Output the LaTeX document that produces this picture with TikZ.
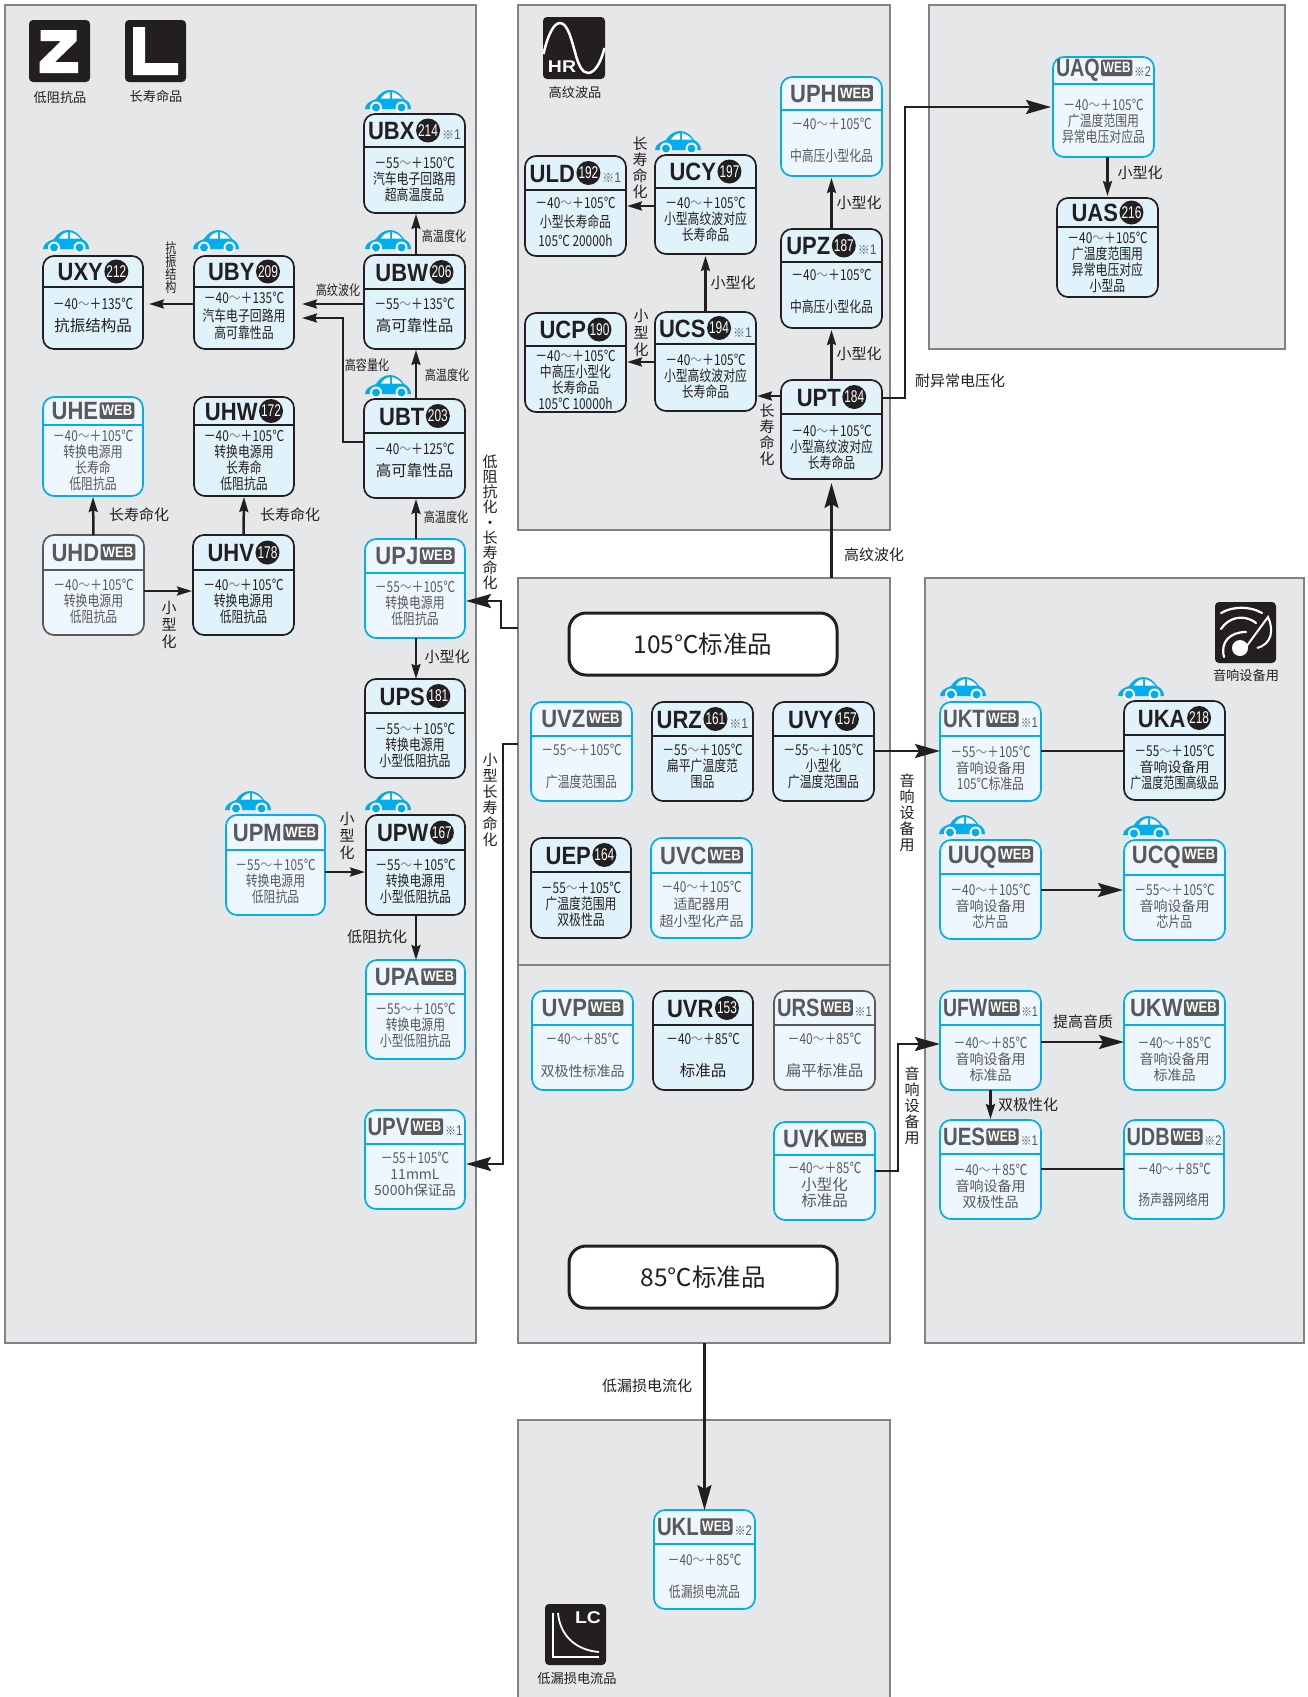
\documentclass[tikz,border=0pt]{standalone}
\usepackage{fontspec}
\usepackage{graphicx}
\usetikzlibrary{arrows.meta,calc}
\newfontfamily\cjk{Noto Sans CJK SC}[FakeStretch=0.79]
\newfontfamily\cjkn{Noto Sans CJK SC}
\newfontfamily\ttlf{Liberation Sans}[FakeStretch=0.88]
\newfontfamily\numf{Liberation Sans}[FakeStretch=0.70]
\definecolor{ink}{HTML}{231F20}
\definecolor{gr}{HTML}{58595B}
\definecolor{cy}{HTML}{00AEEF}
\definecolor{pan}{HTML}{E6E7E8}
\definecolor{panb}{HTML}{808285}
\definecolor{fd}{HTML}{E0F2FA}
\definecolor{fw}{HTML}{EEF7FD}
\newsavebox\rowb
\tikzset{
 panelbox/.style={draw=panb,line width=1.2pt,fill=pan,rectangle,inner sep=0pt,outer sep=0pt},
 boxbase/.style={rectangle,rounded corners=11pt,inner sep=0pt,outer sep=0pt,line width=1.7pt},
 boxd/.style={boxbase,draw=ink,fill=fd},
 boxw/.style={boxbase,draw=cy,fill=fw},
 boxg/.style={boxbase,draw=gr,fill=fw},
 bigbox/.style={rectangle,rounded corners=17pt,draw=ink,line width=3pt,fill=white,inner sep=0pt,outer sep=0pt,minimum width=268pt,minimum height=62pt,font=\cjkn\fontsize{24.5}{25}\selectfont,text=ink},
 icon/.style={fill=ink,rounded corners=4pt},
 conn/.style={draw=ink,line width=2.5pt},
 arS/.style={conn,-{Stealth[length=15pt,width=9pt,inset=2pt]}},
 arB/.style={conn,-{Stealth[length=25pt,width=14pt,inset=4pt]}},
 caption/.style={inner sep=0pt,text=ink,font=\cjkn\fontsize{13.2}{14}\selectfont},
 lab/.style={inner sep=0pt,text=ink,font=\cjkn\fontsize{15}{15}\selectfont},
 labs/.style={inner sep=0pt,text=ink,font=\cjk\fontsize{14}{14}\selectfont},
}
\newcommand\panelrect[5]{\pgfmathsetmacro\bw{#4-#2}\pgfmathsetmacro\bh{#5-#3}\pgfmathsetmacro\cxx{(#2+#4)/2}\pgfmathsetmacro\cyy{(#3+#5)/2}%
 \node[panelbox,minimum width=\bw pt,minimum height=\bh pt] (#1) at (\cxx,\cyy) {};}
\newcommand\bx[7]{\def\curname{#1}\pgfmathsetmacro\bw{#4-#2}\pgfmathsetmacro\bh{#5-#3}\pgfmathsetmacro\cxb{(#2+#4)/2}\pgfmathsetmacro\cyy{(#3+#5)/2}\pgfmathsetmacro\hyy{(#3+#6)/2}%
 \if d#7\def\tc{ink}\def\bc{ink}\else\def\tc{gr}\if g#7\def\bc{gr}\else\def\bc{cy}\fi\fi
 \node[box#7,minimum width=\bw pt,minimum height=\bh pt] (#1) at (\cxb,\cyy) {};
 \draw[draw=\bc,line width=1.4pt] (#1.west |- 0,#6) -- (#1.east |- 0,#6);}
\newcommand\badge[1]{\tikz[baseline={([yshift=-9pt]\curname-bdg.center)}]\node[circle,fill=ink,text=white,inner sep=0pt,minimum size=24pt,font=\numf\mdseries\fontsize{17}{17}\selectfont] (\curname-bdg) {#1};}
\newcommand\webtag{\tikz[baseline={([yshift=-9pt]\curname-tag.center)}]\node[rectangle,rounded corners=1.5pt,fill=gr,text=white,inner xsep=2pt,inner ysep=0pt,minimum height=16.5pt,font=\ttlf\bfseries\fontsize{15}{15}\selectfont] (\curname-tag) {WEB};}
\newcommand\hd[3]{%
 \node[inner sep=0pt] (\curname-h) at (\cxb,\hyy) {\sbox\rowb{\color{\tc}\ttlf\bfseries\fontsize{25}{25}\selectfont #1\hspace{1.5pt}\ifx&#2&\webtag\else\badge{#2}\fi\ifx&#3&\else\hspace{2pt}{\color{gr}\cjkn\mdseries\fontsize{12}{12}\selectfont ※\ttlf\fontsize{14}{14}\selectfont #3}\fi}%
 \ifdim\wd\rowb>95pt\resizebox{95pt}{\height}{\usebox\rowb}\else\usebox\rowb\fi};}
\newcommand\bd[3]{\node[inner sep=0pt,align=center,text=\tc,font=\cjk\fontsize{15}{#2}\selectfont] (\curname-b) at (\cxb,#1) {#3};}
\newcommand\Tm[2]{－#1\textcolor{black!45}{～}＋#2℃}
\newcommand\md[1]{{\cjkn\fontsize{14}{0}\selectfont #1}}
\newcommand\bg[1]{{\cjkn\fontsize{15.5}{0}\selectfont #1}}
\newcommand\car[2]{\begin{scope}[shift={(#1,#2)}]
 \fill[cy] (0,19) .. controls (0,14) and (5,11) .. (11,9) .. controls (14,4) and (19,0) .. (25,0) .. controls (31,0) and (36,4) .. (39,9) .. controls (43,11) and (46,14) .. (46,19) -- cycle;
 \fill[white] (16,8.5) .. controls (18,5) and (21,2.5) .. (25,2.2) -- (25,8.5) -- cycle;
 \fill[white] (27,2.2) .. controls (31,3) and (34,5) .. (37,8.5) -- (27,8.5) -- cycle;
 \fill[white] (11,17.5) circle (6);\fill[cy] (11,17.5) circle (4);
 \fill[white] (36.5,17.5) circle (6);\fill[cy] (36.5,17.5) circle (4);
 \end{scope}}
\begin{document}
\begin{tikzpicture}[x=1pt,y=-1pt]
\useasboundingbox (0,0) rectangle (1308,1697);
\fill[white] (0,0) rectangle (1308,1697);
% panels
\panelrect{pL}{5}{5}{476}{1343}
\panelrect{pT}{518}{5}{890}{530}
\panelrect{pTR}{929}{5}{1285}{349}
\panelrect{pM}{518}{578}{890}{1343}
\panelrect{pR}{925}{578}{1304}{1343}
\panelrect{pB}{518}{1420}{890}{1703}
\draw[draw=panb,line width=1.2pt] (pM.west |- 0,965) -- (pM.east |- 0,965);
% icons
\fill[icon] (29,20) rectangle (90,82);
\fill[white] (40.5,30) -- (76.7,30) -- (76.7,41) -- (55,62) -- (78,62) -- (78,73) -- (39.5,73) -- (39.5,62) -- (61,41) -- (40.5,41) -- cycle;
\node[caption] (capZ) at (60,97) {低阻抗品};
\fill[icon] (125,20) rectangle (186,82);
\fill[white] (133,27) -- (145,27) -- (145,63) -- (178,63) -- (178,75) -- (133,75) -- cycle;
\node[caption] (capL) at (156,96) {长寿命品};
\fill[icon] (543,17) rectangle (605,79);
\draw[white,line width=2.5pt] (543.5,54) .. controls (548,34) and (554,23) .. (560,23) .. controls (568,23) and (572,42) .. (575,52) .. controls (578,64) and (582,73) .. (588,73) .. controls (595,73) and (601,62) .. (604.5,48);
\node[inner sep=0pt,text=white,font=\ttlf\bfseries\fontsize{17}{17}\selectfont] (txtHR) at (562,67) {\scalebox{1.3}[1]{HR}};
\node[caption] (capH) at (575,92) {高纹波品};
\fill[icon] (1215,602) rectangle (1276,663);
\draw[white,line width=2.2pt,line cap=round] (1221,613) .. controls (1233,606) and (1250,606) .. (1262,613);
\draw[white,line width=2.2pt,line cap=round] (1221,629) .. controls (1228,618) and (1243,613) .. (1256,623);
\draw[white,line width=2.2pt,line cap=round] (1224,657) .. controls (1220,642) and (1230,632) .. (1246,632);
\fill[white] (1240,648) circle (8);
\draw[white,line width=2pt] (1246,647) -- (1268,617) .. controls (1274,630) and (1272,644) .. (1257,648);
\node[caption] (capA) at (1246,675) {音响设备用};
\fill[icon] (545,1604) rectangle (606,1665);
\draw[white,line width=1.8pt] (553,1613) -- (553,1657) -- (599,1657);
\draw[white,line width=1.8pt] (558,1613) .. controls (560,1635) and (575,1650) .. (599,1652);
\node[inner sep=0pt,text=white,font=\ttlf\bfseries\fontsize{17}{17}\selectfont] (txtLC) at (588,1618) {\scalebox{1.3}[1]{LC}};
\node[caption] (capC) at (577,1678) {低漏损电流品};
% big labels
\node[bigbox] (b105) at (703,644) {105℃标准品};
\node[bigbox] (b85) at (703,1277) {85℃标准品};
% cars
\car{365}{90}\car{43}{230}\car{193}{230}\car{365}{230}\car{365}{375}
\car{655}{131}\car{225}{791}\car{365}{791}\car{940}{677}\car{1118}{677}\car{939}{815}\car{1123}{816}
% boxes: left panel
\bx{UBX}{364}{114}{465}{213}{147}{d}\hd{UBX}{214}{1}\bd{179}{16}{\Tm{55}{150}\\汽车电子回路用\\超高温度品}
\bx{UXY}{43}{256}{143}{349}{287}{d}\hd{UXY}{212}{}\bd{315}{22}{\Tm{40}{135}\\\bg{抗振结构品}}
\bx{UBY}{194}{256}{294}{349}{287}{d}\hd{UBY}{209}{}\bd{316}{17.5}{\Tm{40}{135}\\汽车电子回路用\\高可靠性品}
\bx{UBW}{364}{255}{465}{349}{289}{d}\hd{UBW}{206}{}\bd{315}{22}{\Tm{55}{135}\\\bg{高可靠性品}}
\bx{UHE}{43}{397}{143}{496}{425}{w}\hd{UHE}{}{}\bd{460}{16}{\Tm{40}{105}\\转换电源用\\长寿命\\低阻抗品}
\bx{UHW}{194}{397}{294}{496}{425}{d}\hd{UHW}{172}{}\bd{460}{16}{\Tm{40}{105}\\转换电源用\\长寿命\\低阻抗品}
\bx{UBT}{364}{399}{465}{498}{433}{d}\hd{UBT}{203}{}\bd{460.5}{22}{\Tm{40}{125}\\\bg{高可靠性品}}
\bx{UHD}{43}{535}{144}{635}{570}{g}\hd{UHD}{}{}\bd{601}{16}{\Tm{40}{105}\\转换电源用\\低阻抗品}
\bx{UHV}{193}{535}{294}{635}{570}{d}\hd{UHV}{178}{}\bd{601}{16}{\Tm{40}{105}\\转换电源用\\低阻抗品}
\bx{UPJ}{365}{539}{465}{638}{573}{w}\hd{UPJ}{}{}\bd{603}{16}{\Tm{55}{105}\\转换电源用\\低阻抗品}
\bx{UPS}{365}{679}{465}{778}{713}{d}\hd{UPS}{181}{}\bd{745}{16}{\Tm{55}{105}\\转换电源用\\小型低阻抗品}
\bx{UPM}{226}{815}{325}{915}{850}{w}\hd{UPM}{}{}\bd{881}{16}{\Tm{55}{105}\\转换电源用\\低阻抗品}
\bx{UPW}{366}{815}{465}{915}{850}{d}\hd{UPW}{167}{}\bd{881}{16}{\Tm{55}{105}\\转换电源用\\小型低阻抗品}
\bx{UPA}{366}{960}{465}{1059}{994}{w}\hd{UPA}{}{}\bd{1025}{16}{\Tm{55}{105}\\转换电源用\\小型低阻抗品}
\bx{UPV}{365}{1110}{465}{1209}{1144}{w}\hd{UPV}{}{1}\bd{1174}{16}{－55＋105℃\\\md{11mmL}\\\md{5000h保证品}}
% top middle
\bx{UPH}{781}{77}{882}{176}{110}{w}\hd{UPH}{}{}\bd{140}{32}{\Tm{40}{105}\\中高压小型化品}
\bx{UPZ}{781}{229}{882}{328}{262}{d}\hd{UPZ}{187}{1}\bd{291}{32}{\Tm{40}{105}\\中高压小型化品}
\bx{UPT}{781}{380}{882}{479}{414}{d}\hd{UPT}{184}{}\bd{447}{16}{\Tm{40}{105}\\小型高纹波对应\\长寿命品}
\bx{UCY}{655}{155}{756}{254}{188}{d}\hd{UCY}{197}{}\bd{219}{16}{\Tm{40}{105}\\小型高纹波对应\\长寿命品}
\bx{ULD}{525}{156}{626}{256}{190}{d}\hd{ULD}{192}{1}\bd{222}{19}{\Tm{40}{105}\\小型长寿命品\\105℃ 20000h}
\bx{UCS}{655}{312}{756}{411}{344}{d}\hd{UCS}{194}{1}\bd{376}{16}{\Tm{40}{105}\\小型高纹波对应\\长寿命品}
\bx{UCP}{525}{313}{626}{412}{346}{d}\hd{UCP}{190}{}\bd{380}{16}{\Tm{40}{105}\\中高压小型化\\长寿命品\\105℃ 10000h}
% top right
\bx{UAQ}{1053}{57}{1154}{157}{84}{w}\hd{UAQ}{}{2}\bd{121}{16}{\Tm{40}{105}\\广温度范围用\\异常电压对应品}
\bx{UAS}{1057}{198}{1158}{297}{227}{d}\hd{UAS}{216}{}\bd{262}{16}{\Tm{40}{105}\\广温度范围用\\异常电压对应\\小型品}
% middle
\bx{UVZ}{531}{702}{632}{801}{736}{w}\hd{UVZ}{}{}\bd{766}{32}{\Tm{55}{105}\\广温度范围品}
\bx{URZ}{652}{702}{753}{801}{736}{d}\hd{URZ}{161}{1}\bd{766}{16}{\Tm{55}{105}\\扁平广温度范\\围品}
\bx{UVY}{773}{702}{874}{801}{736}{d}\hd{UVY}{157}{}\bd{766}{16}{\Tm{55}{105}\\小型化\\广温度范围品}
\bx{UEP}{531}{838}{631}{938}{872}{d}\hd{UEP}{164}{}\bd{904}{16}{\Tm{55}{105}\\广温度范围用\\双极性品}
\bx{UVC}{651}{838}{752}{938}{873}{w}\hd{UVC}{}{}\bd{904}{17}{\Tm{40}{105}\\\md{适配器用}\\\md{超小型化产品}}
\bx{UVP}{532}{991}{633}{1090}{1025}{w}\hd{UVP}{}{}\bd{1055}{32}{\Tm{40}{85}\\\md{双极性标准品}}
\bx{UVR}{653}{991}{753}{1090}{1025}{d}\hd{UVR}{153}{}\bd{1055}{32}{\Tm{40}{85}\\\bg{标准品}}
\bx{URS}{774}{991}{875}{1090}{1025}{g}\hd{URS}{}{1}\bd{1055}{32}{\Tm{40}{85}\\\bg{扁平标准品}}
\bx{UVK}{774}{1122}{875}{1220}{1155}{w}\hd{UVK}{}{}\bd{1185}{16.5}{\Tm{40}{85}\\\bg{小型化}\\\bg{标准品}}
% right
\bx{UKT}{940}{702}{1041}{801}{736}{w}\hd{UKT}{}{1}\bd{768}{16}{\Tm{55}{105}\\\md{音响设备用}\\105℃标准品}
\bx{UKA}{1124}{701}{1225}{800}{735}{d}\hd{UKA}{218}{}\bd{767}{16}{\Tm{55}{105}\\\md{音响设备用}\\\scalebox{.93}[1]{广温度范围高级品}}
\bx{UUQ}{940}{840}{1041}{939}{874}{w}\hd{UUQ}{}{}\bd{906}{16}{\Tm{40}{105}\\\md{音响设备用}\\芯片品}
\bx{UCQ}{1124}{840}{1225}{940}{875}{w}\hd{UCQ}{}{}\bd{906}{16}{\Tm{55}{105}\\\md{音响设备用}\\芯片品}
\bx{UFW}{940}{991}{1041}{1090}{1025}{w}\hd{UFW}{}{1}\bd{1059}{16}{\Tm{40}{85}\\\md{音响设备用}\\\md{标准品}}
\bx{UKW}{1124}{991}{1225}{1090}{1025}{w}\hd{UKW}{}{}\bd{1059}{16}{\Tm{40}{85}\\\md{音响设备用}\\\md{标准品}}
\bx{UES}{940}{1120}{1041}{1219}{1154}{w}\hd{UES}{}{1}\bd{1186}{16}{\Tm{40}{85}\\\md{音响设备用}\\\md{双极性品}}
\bx{UDB}{1124}{1120}{1224}{1219}{1154}{w}\hd{UDB}{}{2}\bd{1185}{31}{\Tm{40}{85}\\扬声器网络用}
% bottom
\bx{UKL}{654}{1510}{755}{1609}{1544}{w}\hd{UKL}{}{2}\bd{1576}{32}{\Tm{40}{85}\\低漏损电流品}
% connectors
\draw[arS,shorten >=1pt] (UBW.north -| 416,0) -- (UBX.south -| 416,0);
\draw[arS,shorten >=1pt] (UBT.north -| 416,0) -- (UBW.south -| 416,0);
\draw[arS,shorten >=1pt] (UPJ.north -| 416,0) -- (UBT.south -| 416,0);
\draw[arS,shorten >=8pt] (UBW.west |- 0,304) -- (UBY.east |- 0,304);
\draw[arS,shorten >=6pt] (UBY.west |- 0,304) -- (UXY.east |- 0,304);
\draw[arS,shorten >=8pt] (UBT.west |- 0,442) -| (343,318) -- (UBY.east |- 0,318);
\draw[arS,shorten >=1pt] (UHD.north) -- (UHE.south);
\draw[arS,shorten >=1pt] (UHV.north) -- (UHW.south);
\draw[arS,shorten >=1pt] (UHD.east |- 0,591) -- (UHV.west |- 0,591);
\draw[arS,shorten >=0pt] (UPJ.south -| 416,0) -- (UPS.north -| 416,0);
\draw[arS,shorten >=1pt] (UPM.east |- 0,872) -- (UPW.west |- 0,872);
\draw[arS,shorten >=0pt] (UPW.south -| 416,0) -- (UPA.north -| 416,0);
\draw[arS,shorten >=1pt] (UPT.west |- 0,396) -- (UCS.east |- 0,396);
\draw[arS,shorten >=1pt] (UCS.west |- 0,362) -- (UCP.east |- 0,362);
\draw[arS,shorten >=1pt] (UCY.west |- 0,206) -- (ULD.east |- 0,206);
\draw[arS,shorten >=2pt] (UCS.north) -- (UCY.south);
\draw[arS,shorten >=2pt] (UPT.north) -- (UPZ.south);
\draw[arS,shorten >=2pt] (UPZ.north) -- (UPH.south);
\draw[arB,shorten >=4pt] (pM.north -| UPT.south) -- (UPT.south);
\draw[arB,shorten >=1pt] (pM.west |- 0,628) -| (501,601) -- (UPJ.east |- 0,601);
\draw[arB,shorten >=1pt] (pM.west |- 0,744) -| (503,1164) -- (UPV.east |- 0,1164);
\draw[arB,shorten >=2pt] (UPT.east |- 0,398) -| (905,107) -- (UAQ.west |- 0,107);
\draw[arS,shorten >=2pt] (UAQ.south -| UAS.north) -- (UAS.north);
\draw[arB] (UVY.east |- 0,751) -- (UKT.west |- 0,751);
\draw[conn] (UKT.east |- 0,751) -- (UKA.west |- 0,751);
\draw[arB,shorten >=1pt] (UUQ.east |- 0,890) -- (UCQ.west |- 0,890);
\draw[arB] (UVK.east |- 0,1171) -| (898,1044) -- (UFW.west |- 0,1044);
\draw[arB] (UFW.east |- 0,1042) -- (UKW.west |- 0,1042);
\draw[arS,shorten >=1pt] (UFW.south) -- (UES.north);
\draw[conn] (UES.east |- 0,1169) -- (UDB.west |- 0,1169);
\draw[arB] (pM.south -| UKL.north) -- (UKL.north);
% labels
\node[labs] (l1) at (444,236) {高温度化};
\node[labs] (l2) at (338,290) {高纹波化};
\node[labs,align=center,font=\cjk\fontsize{14}{13}\selectfont] (l3) at (171,268) {抗\\振\\结\\构};
\node[labs] (l4) at (367,365) {高容量化};
\node[labs] (l5) at (447,375) {高温度化};
\node[lab] (l6) at (139,515) {长寿命化};
\node[lab] (l7) at (290,515) {长寿命化};
\node[labs] (l8) at (446,517) {高温度化};
\node[lab,align=center,font=\cjkn\fontsize{15}{15.2}\selectfont] (l9) at (490,522.5) {低\\阻\\抗\\化\\•\\长\\寿\\命\\化};
\node[lab,align=center,font=\cjkn\fontsize{15}{17}\selectfont] (l10) at (169,625) {小\\型\\化};
\node[lab] (l11) at (447,657) {小型化};
\node[lab,align=center,font=\cjkn\fontsize{15}{17}\selectfont] (l12) at (347,836) {小\\型\\化};
\node[lab] (l13) at (377,937) {低阻抗化};
\node[lab,align=center,font=\cjkn\fontsize{15}{16}\selectfont] (l14) at (490,800) {小\\型\\长\\寿\\命\\化};
\node[lab] (l15) at (874,555) {高纹波化};
\node[lab] (l16) at (960,381) {耐异常电压化};
\node[lab] (l17) at (1140,173) {小型化};
\node[lab] (l18) at (859,203) {小型化};
\node[lab] (l19) at (859,354) {小型化};
\node[lab] (l20) at (733,283) {小型化};
\node[lab,align=center,font=\cjkn\fontsize{15}{16}\selectfont] (l21) at (640,168) {长\\寿\\命\\化};
\node[lab,align=center,font=\cjkn\fontsize{15}{17}\selectfont] (l22) at (641,333) {小\\型\\化};
\node[lab,align=center,font=\cjkn\fontsize{15}{16}\selectfont] (l23) at (767,435) {长\\寿\\命\\化};
\node[lab,align=center,font=\cjkn\fontsize{15}{16}\selectfont] (l24) at (907,813) {音\\响\\设\\备\\用};
\node[lab,align=center,font=\cjkn\fontsize{15}{16}\selectfont] (l25) at (912,1106) {音\\响\\设\\备\\用};
\node[lab] (l26) at (1083,1022) {提高音质};
\node[lab] (l27) at (1028,1105) {双极性化};
\node[lab] (l28) at (647,1386) {低漏损电流化};
\end{tikzpicture}
\end{document}
